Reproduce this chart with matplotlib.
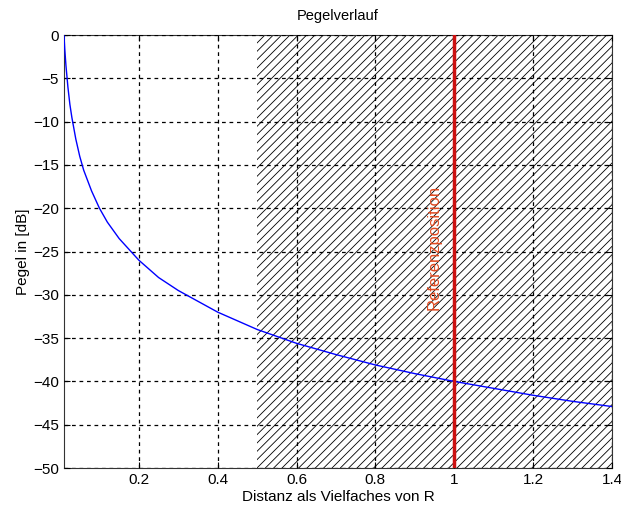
import matplotlib
matplotlib.use("Agg")
import matplotlib.pyplot as plt
import numpy as np

plt.rcParams['font.family'] = ['Liberation Sans', 'DejaVu Sans']

distance = [0.01, 0.012, 0.015, 0.02, 0.025, 0.03, 0.04, 0.05, 0.06, 0.08, 0.1, 0.12,
            0.15, 0.2, 0.25, 0.3, 0.4, 0.5, 0.6, 0.7, 0.8, 0.9, 1.0, 1.1, 1.2, 1.3, 1.4]
pegel_db = [0, -1.6, -3.5, -6, -8, -9.5, -12, -14, -15.6, -18, -20, -21.6,
            -23.5, -26, -28, -29.5, -32, -34, -35.6, -36.9, -38.1, -39.1, -40, -40.8,
            -41.6, -42.3, -42.9]
hatch_start = 0.5
ref_position = 1.0
x_ticks = [0.2, 0.4, 0.6, 0.8, 1.0, 1.2, 1.4]
x_tick_labels = ['0.2', '0.4', '0.6', '0.8', '1', '1.2', '1.4']
y_ticks = [0, -5, -10, -15, -20, -25, -30, -35, -40, -45, -50]

fig = plt.figure(figsize=(6.21, 5.16), dpi=100)
ax = fig.add_axes([0.103, 0.093, 0.8825, 0.839])

plt.rcParams['hatch.linewidth'] = 0.6
ax.axvspan(hatch_start, 1.4, facecolor='none', edgecolor='black', hatch='////', linewidth=0, zorder=1)
ax.plot(distance, pegel_db, color='blue', linewidth=1.0, zorder=3)
ax.axvline(ref_position, color='#cc1111', linewidth=2.5, zorder=4)
ax.text(0.95, -24.5, 'Referenzposition', rotation=90, color='#e04a20', fontsize=12,
        ha='center', va='center', zorder=5)

ax.set_xlim(0.01, 1.4)
ax.set_ylim(-50, 0)
ax.set_xticks(x_ticks)
ax.set_xticklabels(x_tick_labels)
ax.set_yticks(y_ticks)
ax.tick_params(direction='in', top=True, right=True, labelsize=11, length=4)
ax.grid(True, color='black', linestyle=(0, (3, 3)), linewidth=0.9, zorder=2)
ax.set_axisbelow(False)
ax.set_title('Pegelverlauf', fontsize=10.5, pad=11)
ax.set_xlabel('Distanz als Vielfaches von R', fontsize=11, labelpad=2)
ax.set_ylabel('Pegel in [dB]', fontsize=11, labelpad=2)
for s in ax.spines.values():
    s.set_color('#333333')

fig.savefig('out.png', dpi=100)
